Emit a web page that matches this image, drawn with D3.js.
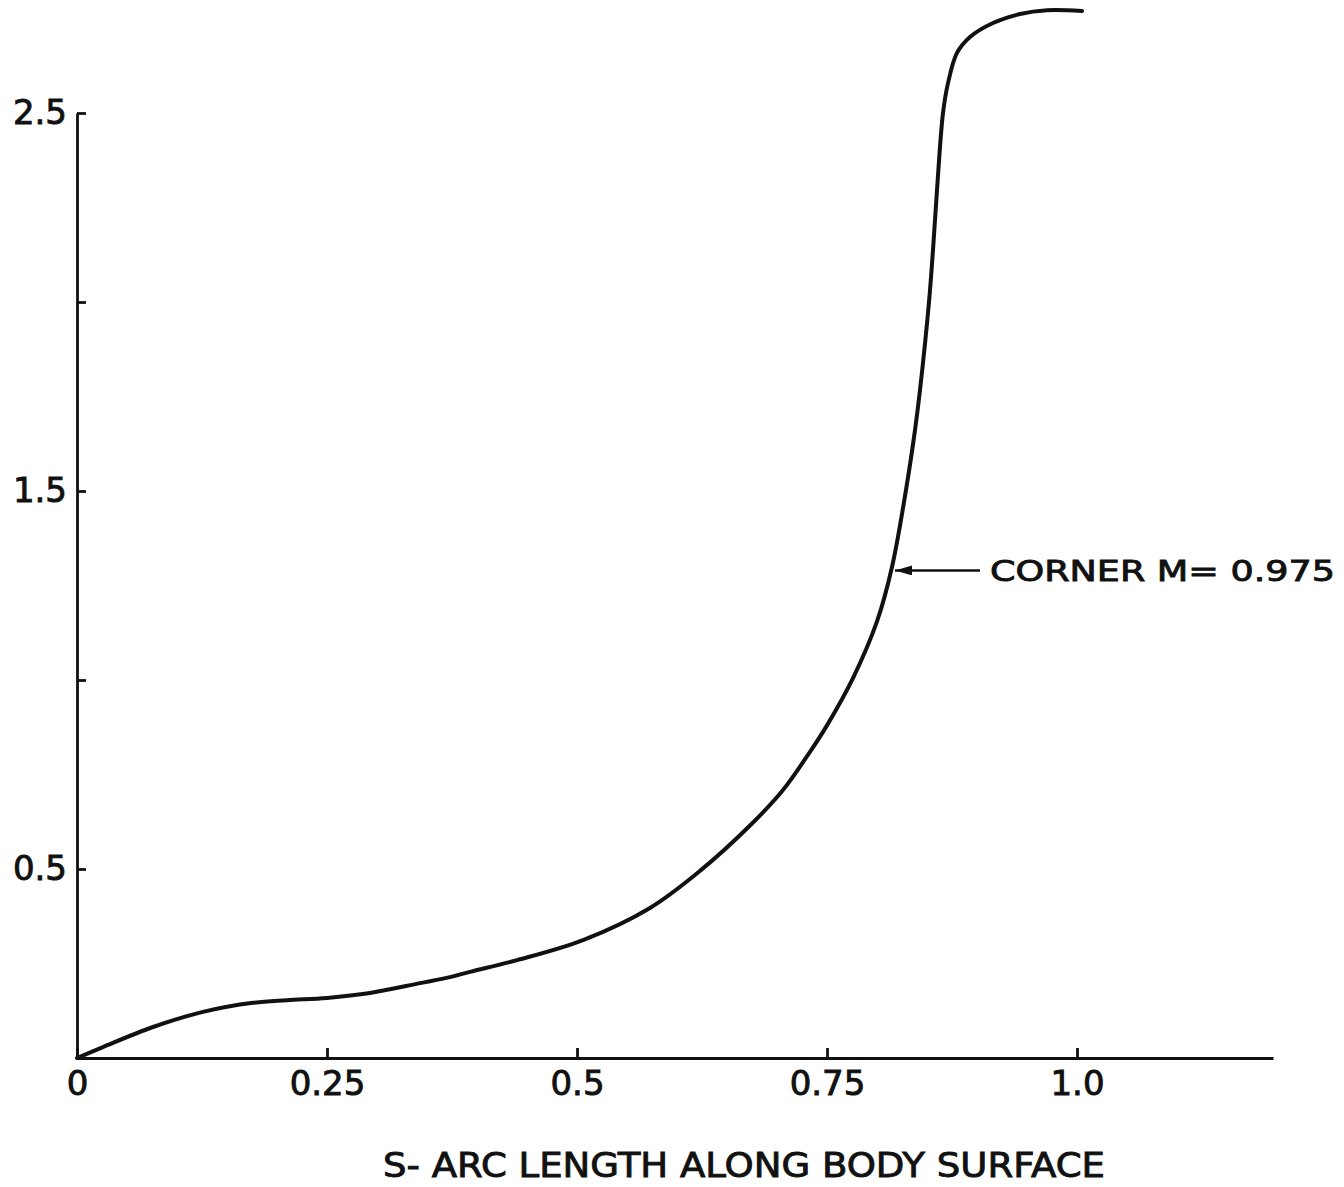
<!DOCTYPE html>
<html>

<head>
    <title>Arc length chart</title>
    <script src="https://d3js.org/d3.v7.min.js"></script>
    <style>
        body {
            margin: 0;
            background: #fff;
        }

        .axis path,
        .axis line {
            stroke: #111;
            stroke-width: 2.8px;
        }

        .axis text {
            font-family: "DejaVu Sans", sans-serif;
            font-size: 34px;
            fill: #111;
            stroke: #111;
            stroke-width: 0.9px;
        }

        .curve {
            fill: none;
            stroke: #111;
            stroke-width: 4px;
            stroke-linejoin: round;
            stroke-linecap: round;
        }

        .label {
            font-family: "DejaVu Sans", sans-serif;
            fill: #111;
            stroke: #111;
            stroke-width: 0.9px;
        }
    </style>
</head>

<body>
    <script>
        // arc length s (x) and the plotted quantity (y)
        var sValues = [0, 0.026, 0.076, 0.126, 0.176, 0.21, 0.25, 0.293, 0.343, 0.373, 0.393, 0.44, 0.506,
            0.573, 0.623, 0.673, 0.706, 0.733, 0.75, 0.776, 0.8, 0.815, 0.829, 0.838, 0.843, 0.852,
            0.856, 0.86, 0.866, 0.871, 0.88, 0.893, 0.916, 0.943, 0.97, 1.005];
        var yValues = [0, 0.029, 0.082, 0.122, 0.146, 0.153, 0.159, 0.172, 0.198, 0.214, 0.228, 0.259, 0.312,
            0.397, 0.495, 0.615, 0.709, 0.81, 0.88, 1.005, 1.155, 1.299, 1.503, 1.661, 1.767, 2.0,
            2.138, 2.296, 2.5, 2.579, 2.659, 2.701, 2.738, 2.762, 2.772, 2.77];

        var xTicks = [0, 0.25, 0.5, 0.75, 1.0];
        var xTickLabels = ["0", "0.25", "0.5", "0.75", "1.0"];
        var yTicks = [0.5, 1.0, 1.5, 2.0, 2.5];
        var yTickLabels = ["0.5", "", "1.5", "", "2.5"];

        var annotationS = 0.816, annotationY = 1.29;
        var annotationText = "CORNER  M= 0.975";
        var xTitle = "S- ARC LENGTH ALONG BODY SURFACE";

        var width = 1344, height = 1187;

        var svg = d3.select("body").append("svg")
            .attr("width", width)
            .attr("height", height);

        var x = d3.scaleLinear().domain([0, 1.196]).range([77, 1273]);
        var y = d3.scaleLinear().domain([0, 2.5]).range([1058, 113]);

        svg.append("defs").append("marker")
            .attr("id", "arrow")
            .attr("viewBox", "0 0 10 10")
            .attr("refX", 10)
            .attr("refY", 5)
            .attr("markerWidth", 17)
            .attr("markerHeight", 10)
            .attr("markerUnits", "userSpaceOnUse")
            .attr("orient", "auto")
            .attr("preserveAspectRatio", "none")
            .append("path")
            .attr("d", "M0,0L10,5L0,10Z")
            .attr("fill", "#111");

        // x axis, ticks pointing up
        svg.append("g")
            .attr("class", "axis")
            .attr("transform", "translate(0," + y(0) + ")")
            .call(d3.axisBottom(x)
                .tickValues(xTicks)
                .tickFormat((d, i) => xTickLabels[i])
                .tickSizeInner(-10)
                .tickSizeOuter(0)
                .tickPadding(13));

        // y axis, ticks pointing right, labels on the left
        svg.append("g")
            .attr("class", "axis")
            .attr("transform", "translate(" + x(0) + ",0)")
            .call(d3.axisLeft(y)
                .tickValues(yTicks)
                .tickFormat((d, i) => yTickLabels[i])
                .tickSizeInner(-9)
                .tickSizeOuter(0)
                .tickPadding(10))
            .call(g => g.selectAll(".tick text").attr("font-size", 37));

        var pts = sValues.map((s, i) => [s, yValues[i]]);

        var line = d3.line()
            .x(d => x(d[0]))
            .y(d => y(d[1]))
            .curve(d3.curveCatmullRom.alpha(0.5));

        svg.append("path")
            .datum(pts)
            .attr("class", "curve")
            .attr("d", line);

        // annotation arrow
        var ay = y(annotationY);
        svg.append("line")
            .attr("x1", 980)
            .attr("y1", ay)
            .attr("x2", x(annotationS) + 2)
            .attr("y2", ay)
            .attr("stroke", "#111")
            .attr("stroke-width", 2.5)
            .attr("marker-end", "url(#arrow)");

        svg.append("text")
            .attr("class", "label")
            .attr("x", 990)
            .attr("y", ay + 11)
            .attr("font-size", 29)
            .attr("textLength", 345)
            .attr("lengthAdjust", "spacingAndGlyphs")
            .text(annotationText);

        svg.append("text")
            .attr("class", "label")
            .attr("x", 383)
            .attr("y", 1177)
            .attr("font-size", 34)
            .attr("textLength", 722)
            .attr("lengthAdjust", "spacingAndGlyphs")
            .text(xTitle);
    </script>
</body>

</html>
